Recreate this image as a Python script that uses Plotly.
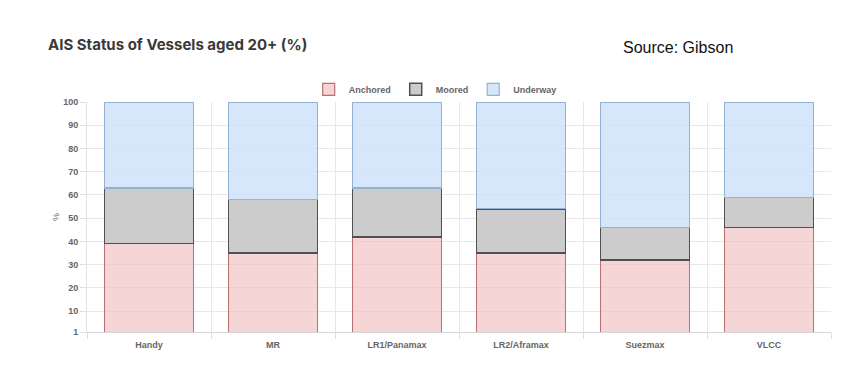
import plotly.graph_objects as go

categories = ["Handy", "MR", "LR1/Panamax", "LR2/Aframax", "Suezmax", "VLCC"]
anchored = [39, 35, 42, 35, 32, 46]
moored = [24, 23, 21, 19, 14, 13]
underway = [37, 42, 37, 46, 54, 41]
y_ticks = [1, 10, 20, 30, 40, 50, 60, 70, 80, 90, 100]

FONT = "Liberation Sans, Arial, sans-serif"

fig = go.Figure()
series = [
    ("Anchored", anchored, "rgba(240,190,190,0.65)", "#b87070", 1.2),
    ("Moored", moored, "rgba(200,201,200,0.95)", "#505050", 1.5),
    ("Underway", underway, "rgba(205,225,250,0.8)", "#93b2d2", 1.2),
]
for name, vals, fill, line, lw in series:
    fig.add_trace(go.Bar(
        x=categories, y=vals, name=name,
        marker=dict(color=fill, line=dict(color=line, width=lw)),
    ))

fig.update_layout(
    barmode="stack",
    bargap=0.28,
    width=847, height=377,
    margin=dict(l=87, r=16, t=102, b=45),
    paper_bgcolor="white", plot_bgcolor="white",
    font=dict(family=FONT, color="#666666", size=9),
    showlegend=True,
    legend=dict(orientation="h", x=0.468, xanchor="center", y=1.055, yanchor="middle",
                bgcolor="rgba(0,0,0,0)",
                font=dict(size=9, color="#666666", weight="bold"), itemwidth=30,
                traceorder="normal"),
)
fig.add_annotation(text="AIS Status of Vessels aged 20+ (%)",
                   xref="paper", yref="paper",
                   x=(46 - 87) / 744, y=1 + (102 - 44) / 230,
                   xanchor="left", yanchor="middle", showarrow=False,
                   font=dict(family="Inter, Roboto, sans-serif", size=15, color="#3a3a3a", weight="bold"))
fig.add_annotation(text="Source: Gibson",
                   xref="paper", yref="paper",
                   x=(621 - 87) / 744, y=1 + (102 - 47) / 230,
                   xanchor="left", yanchor="middle", showarrow=False,
                   font=dict(family=FONT, size=16, color="#111111"))

fig.update_xaxes(
    type="category", tickson="boundaries",
    showgrid=True, gridcolor="#e8e8e8", gridwidth=1,
    ticks="outside", ticklen=6, tickcolor="#e0e0e0",
    ticklabelstandoff=4,
    showline=True, linecolor="#d8d8d8",
    tickfont=dict(size=9, color="#666666", family=FONT, weight="bold"),
)
fig.update_yaxes(
    range=[1, 100], tickmode="array", tickvals=y_ticks,
    showgrid=True, gridcolor="#e8e8e8", gridwidth=1,
    ticks="outside", ticklen=6, tickcolor="#e0e0e0",
    showline=True, linecolor="#e0e0e0", zeroline=False,
    title=dict(text="%", font=dict(size=9, color="#666666"), standoff=2),
    tickfont=dict(size=9, color="#666666", family=FONT, weight="bold"),
)

fig.write_html("out.html", config={"displayModeBar": False},
               post_script="document.body.style.margin='0';")
